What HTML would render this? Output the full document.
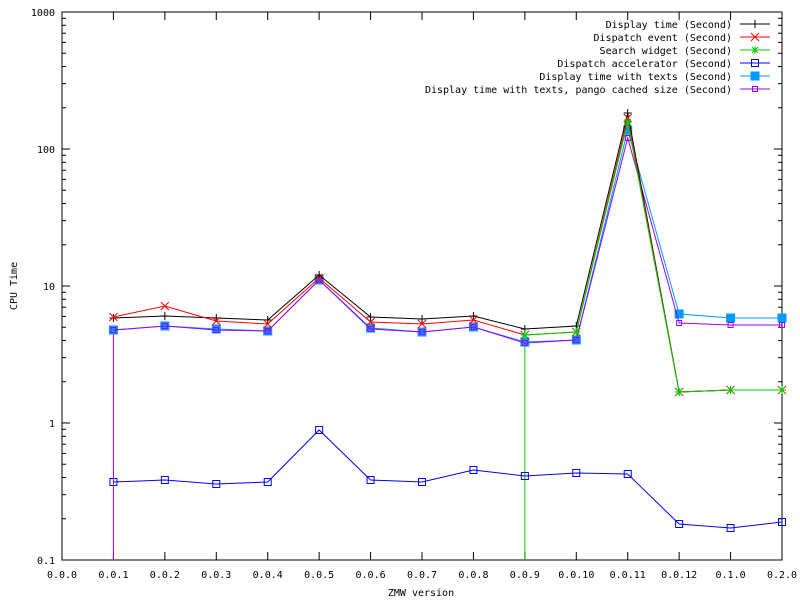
<!DOCTYPE html>
<html><head><meta charset="utf-8"><style>
body{margin:0;background:#fff}
svg text{font-family:"DejaVu Sans Mono","Liberation Mono",monospace;font-size:10px}
</style></head><body>
<svg id="s" width="800" height="600" xmlns="http://www.w3.org/2000/svg"></svg>
<script>
const s=document.getElementById('s');let h='';
const X=i=>62+720/14*i;
h+='<rect x="62" y="12" width="720" height="548" fill="none" stroke="#000"/>';
const yl=['1000','100','10','1','0.1'];
for(let d=0;d<5;d++){const y=12+d*137;h+=`<text x="55" y="${y+4}" text-anchor="end">${yl[d]}</text>`;
 if(d<4)for(let m=2;m<10;m++){const yy=12+(d+1)*137-Math.log10(m)*137;h+=`<line x1="62" x2="66" y1="${yy}" y2="${yy}" stroke="#000"/><line x1="782" x2="778" y1="${yy}" y2="${yy}" stroke="#000"/>`;}
 h+=`<line x1="62" x2="70" y1="${y}" y2="${y}" stroke="#000"/><line x1="782" x2="774" y1="${y}" y2="${y}" stroke="#000"/>`;}
const xl=['0.0.0','0.0.1','0.0.2','0.0.3','0.0.4','0.0.5','0.0.6','0.0.7','0.0.8','0.0.9','0.0.10','0.0.11','0.0.12','0.1.0','0.2.0'];
for(let i=0;i<15;i++){const x=X(i);h+=`<line x1="${x}" x2="${x}" y1="560" y2="552" stroke="#000"/><line x1="${x}" x2="${x}" y1="12" y2="20" stroke="#000"/><text x="${x}" y="578" text-anchor="middle">${xl[i]}</text>`;}
h+='<text x="421" y="596" text-anchor="middle">ZMW version</text>';
h+='<text transform="translate(17,286) rotate(-90)" text-anchor="middle">CPU Time</text>';
const S=[
['#000','+',[318,316,318,320,275,317,319,316,329,326,113,392,390,390],1],
['#f00','x',[317,306,321,324,278,322,324,320,335,332,118,392,390,390],1],
['#0c0','*',[null,null,null,null,null,null,null,null,335,332,122,392,390,390],9],
['#00f','os',[482,480,484,482,430,480,482,470,476,473,474,524,528,522],1],
['#09f','fs',[330,326,329,331,280,328,332,327,342,340,130,314,318,318],1],
['#90f','ps',[330,326,330,331,280,329,332,327,343,340,138,323,325,325],1]];
function mk(t,x,y,c){if(t=='+')return `<path d="M${x-4} ${y}h8M${x} ${y-4}v8" stroke="${c}"/>`;
 if(t=='x')return `<path d="M${x-4} ${y-4}l8 8M${x-4} ${y+4}l8 -8" stroke="${c}"/>`;
 if(t=='*')return `<path d="M${x-4} ${y}h8M${x} ${y-4}v8M${x-3} ${y-3}l6 6M${x-3} ${y+3}l6 -6" stroke="${c}"/>`;
 if(t=='os')return `<rect x="${x-3.5}" y="${y-3.5}" width="7" height="7" fill="none" stroke="${c}"/>`;
 if(t=='fs')return `<rect x="${x-4.5}" y="${y-4.5}" width="9" height="9" fill="${c}"/>`;
 return `<rect x="${x-2.5}" y="${y-2.5}" width="5" height="5" fill="none" stroke="${c}"/>`;}
h+=`<line x1="${X(1)}" x2="${X(1)}" y1="560" y2="330" stroke="#90f"/>`;
h+=`<line x1="${X(9)}" x2="${X(9)}" y1="560" y2="335" stroke="#0c0"/>`;
const ord=[4,5,3,0,1,2];
for(const k of ord){const [c,t,d]=S[k];let p=[];d.forEach((y,i)=>{if(y!=null)p.push(X(i+1)+','+y)});
 h+=`<polyline points="${p.join(' ')}" fill="none" stroke="${c}"/>`;
 d.forEach((y,i)=>{if(y!=null)h+=mk(t,X(i+1),y,c)});}
const L=['Display time (Second)','Dispatch event (Second)','Search widget (Second)','Dispatch accelerator (Second)','Display time with texts (Second)','Display time with texts, pango cached size (Second)'];
L.forEach((l,i)=>{const y=24+i*13;const c=S[i][0];h+=`<text x="732" y="${y+4}" text-anchor="end">${l}</text><line x1="740" x2="770" y1="${y}" y2="${y}" stroke="${c}"/>`+mk(S[i][1],755,y,c);});
s.innerHTML=h;
</script>
</body></html>
